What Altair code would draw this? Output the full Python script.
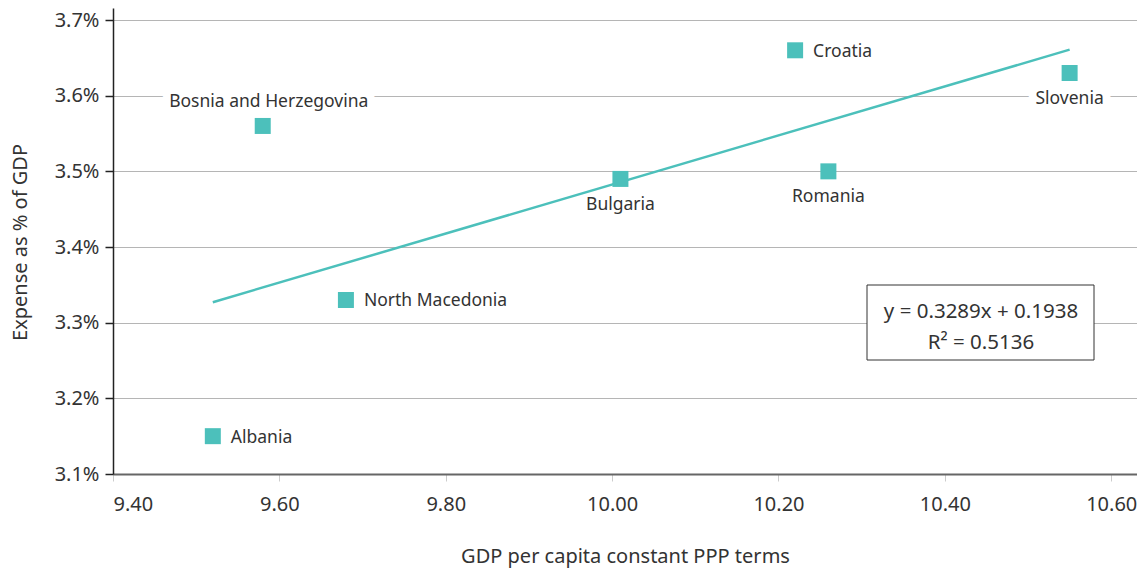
import altair as alt
import pandas as pd

countries = ["Albania", "Bosnia and Herzegovina", "North Macedonia", "Bulgaria",
             "Croatia", "Romania", "Slovenia"]
gdp = [9.52, 9.58, 9.68, 10.01, 10.22, 10.26, 10.55]
expense = [3.15, 3.56, 3.33, 3.49, 3.66, 3.50, 3.63]
x_ticks = [9.4, 9.6, 9.8, 10.0, 10.2, 10.4, 10.6]
y_ticks = [3.1, 3.2, 3.3, 3.4, 3.5, 3.6, 3.7]
label_right = ["Albania", "North Macedonia", "Croatia"]
label_above = ["Bosnia and Herzegovina"]
label_below = ["Bulgaria", "Romania", "Slovenia"]
equation_lines = ["y = 0.3289x + 0.1938", "R² = 0.5136"]

df = pd.DataFrame({"country": countries, "gdp": gdp, "expense": expense})

FONT = "Noto Sans"
TEAL = "#4cc0bb"
TEXT = "#333333"

x_scale = alt.Scale(domain=[9.4, 10.631], nice=False, zero=False)
y_scale = alt.Scale(domain=[3.1, 3.7159], nice=False, zero=False)

x_enc = alt.X(
    "gdp:Q", scale=x_scale,
    axis=alt.Axis(values=x_ticks, format=".2f", grid=False,
                  title="GDP per capita constant PPP terms",
                  domainColor="#666666", domainWidth=2,
                  tickColor="#cccccc", tickSize=7, tickWidth=1,
                  labelPadding=13, labelFontSize=20,
                  titleFontSize=20, titleFontWeight="normal",
                  titleY=82, titleBaseline="middle"),
)
y_enc = alt.Y(
    "expense:Q", scale=y_scale,
    axis=alt.Axis(values=y_ticks, labelExpr="format(datum.value, '.1f') + '%'",
                  grid=True, gridColor="#b5b5b5", gridWidth=1,
                  title="Expense as % of GDP",
                  domainColor="#222222", domainWidth=1.5,
                  tickColor="#222222", tickSize=8, tickWidth=1.5,
                  labelPadding=6, labelFontSize=20,
                  titleFontSize=20, titleFontWeight="normal",
                  titleX=-93, titleY=234, titleBaseline="middle",
                  titleAngle=-90),
)

base = alt.Chart(df).encode(x=x_enc, y=y_enc)

points = base.mark_square(size=256, color=TEAL, opacity=1)

trend = base.transform_regression("gdp", "expense").mark_line(
    color=TEAL, strokeWidth=2.5)

def labels(names, **kw):
    sel = base.transform_filter(alt.FieldOneOfPredicate(field="country", oneOf=names))
    halo = sel.mark_text(font=FONT, fontSize=17.5, color="white", stroke="white",
                         strokeWidth=16, strokeJoin="round", **kw).encode(text="country:N")
    txt = sel.mark_text(font=FONT, fontSize=17.5, color=TEXT, **kw).encode(text="country:N")
    return halo, txt

h1, t1 = labels(label_right, align="left", baseline="middle", dx=18, dy=1.5)
h2, t2 = labels(label_above, align="center", baseline="middle", dx=6, dy=-24)
h3, t3 = labels(label_below, align="center", baseline="middle", dx=0, dy=26)

box = alt.Chart(pd.DataFrame({"a": [0]})).mark_rect(
    fill="white", stroke="#333333", strokeWidth=1
).encode(x=alt.value(754), x2=alt.value(981), y=alt.value(277), y2=alt.value(352))

eq_df = pd.DataFrame({"line": equation_lines, "row": [0, 1]})
eq1 = alt.Chart(eq_df).transform_filter("datum.row == 0").mark_text(
    font=FONT, fontSize=20.5, color=TEXT, align="center", baseline="middle"
).encode(text="line:N", x=alt.value(868), y=alt.value(304))
eq2 = alt.Chart(eq_df).transform_filter("datum.row == 1").mark_text(
    font=FONT, fontSize=20.5, color=TEXT, align="center", baseline="middle"
).encode(text="line:N", x=alt.value(868), y=alt.value(335))

chart = alt.layer(
    h1, h2, h3, trend, points, t1, t2, t3, box, eq1, eq2
).properties(
    width=1024, height=466,
    autosize=alt.AutoSizeParams(type="none"),
    padding={"left": 105, "top": 0, "right": 0, "bottom": 96},
).configure_view(stroke=None).configure_axis(
    labelFont=FONT, titleFont=FONT, labelColor=TEXT, titleColor=TEXT
)

chart.save("out.html", embed_options={"renderer": "svg", "actions": False})
